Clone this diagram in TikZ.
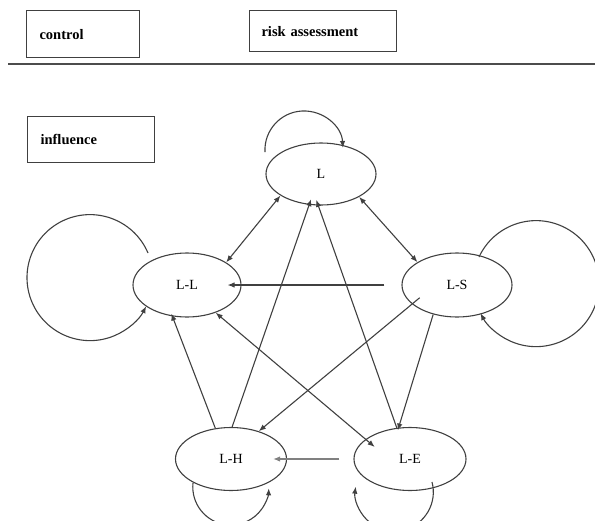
\documentclass[tikz,border=0pt]{standalone}
\usepackage{fontspec}
\setmainfont{Liberation Serif}
\usetikzlibrary{arrows.meta,shapes.geometric}
\begin{document}
\begin{tikzpicture}[x=1pt,y=-1pt,
  ink/.style={draw=black!75, line width=1.1pt},
  labelbox/.style={ink, anchor=north west, inner ysep=0pt, align=left, font=\fontsize{14.5}{16}\selectfont\bfseries},
  state/.style={ellipse, ink, inner sep=0pt, font=\fontsize{14}{16}\selectfont},
  arr/.style={ink, -{Latex[length=7pt,width=5.5pt]}},
  darr/.style={ink, {Latex[length=7pt,width=5.5pt]}-{Latex[length=7pt,width=5.5pt]}}
]
\useasboundingbox (0,0) rectangle (595,520);
% top boxes
\node[labelbox, minimum width=113pt, minimum height=47pt, text width=87pt, inner xsep=13pt] (ctrl) at (26,10) {control};
\node[labelbox, minimum width=147pt, minimum height=41pt, text width=123pt, inner xsep=12pt] (risk) at (249,10) {risk assessment};
\coordinate (sepL) at (8,64);
\coordinate (sepR) at (595,64);
\draw[draw=black!70, line width=1.5pt] (sepL) -- (sepR);
\node[labelbox, minimum width=127pt, minimum height=46pt, text width=101pt, inner xsep=13pt] (infl) at (27,116) {influence};
% states
\node[state, minimum width=110pt, minimum height=62pt] (L)  at (321,174) {L};
\node[state, minimum width=108pt, minimum height=64pt] (LL) at (187,285) {L-L};
\node[state, minimum width=110pt, minimum height=64pt] (LS) at (457,285) {L-S};
\node[state, minimum width=111pt, minimum height=63pt] (LH) at (231,459) {L-H};
\node[state, minimum width=112pt, minimum height=63pt] (LE) at (410,459) {L-E};
% edges
\draw[darr] (L.208) -- (LL.30);
\draw[darr] (L.329) -- (LS.150);
\draw[arr, shorten <=17pt, shorten >=-14pt] (LS.west) -- (LL.east);
\draw[arr, shorten >=-6pt] (LH.88) -- (L.249);
\draw[arr, shorten >=-6pt] (LE.113) -- (L.265);
\draw[arr, shorten >=-3pt] (LS.231) -- (LE.110);
\draw[darr, shorten >=-12pt] (LL.316) -- (LE.156);
\draw[arr, shorten >=-3pt] (LH.117) -- (LL.245);
\draw[arr, shorten <=-10pt] (LS.203) -- (LH.45);
\draw[arr, draw=black!50, line width=1.8pt, shorten <=14pt, shorten >=-14pt] (LE.west) -- (LH.east);
% self loops
\draw[arr] ([shift={(-56,-22)}]L.center) arc[start angle=-183, end angle=-3, radius=39];
\draw[arr] ([shift={(-39,-32)}]LL.center) arc[start angle=-23, end angle=-333, radius=63];
\draw[arr] ([shift={(22,-28)}]LS.center) arc[start angle=-155, end angle=152, radius=63];
\draw[arr] ([shift={(-38,24)}]LH.center) arc[start angle=-174, end angle=-358, radius=38];
\draw[arr] ([shift={(22,23)}]LE.center) arc[start angle=-15, end angle=188, radius=39];
\end{tikzpicture}
\end{document}
